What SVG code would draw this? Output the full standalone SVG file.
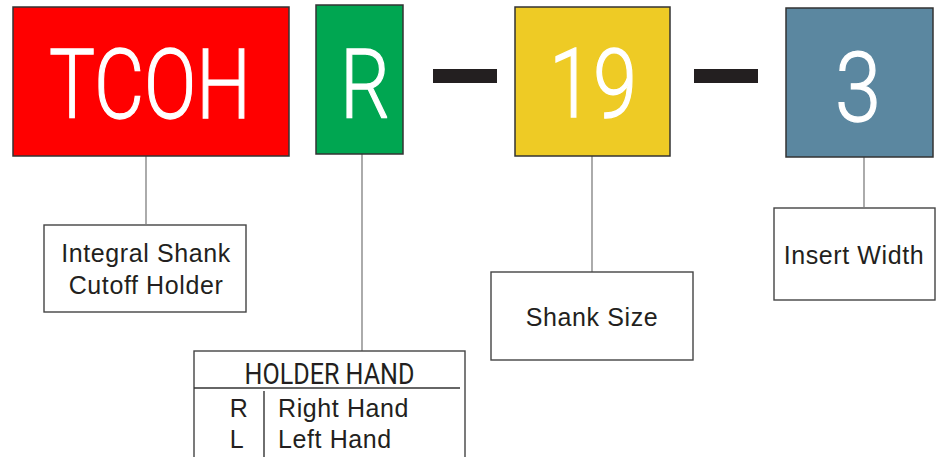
<svg xmlns="http://www.w3.org/2000/svg" width="946" height="457" viewBox="0 0 946 457">
<style>
.code{stroke:#333;stroke-width:1.5}
.big{fill:#fff;stroke:#fff;stroke-width:1.3;font-family:Roboto,"Liberation Sans",sans-serif;font-weight:300;font-size:96px;text-anchor:middle}
.lbox{fill:#fff;stroke:#444;stroke-width:1.4}
.lbl{fill:#231f20;font-family:"Liberation Sans",Arial,sans-serif;font-size:25px;letter-spacing:0.6px;text-anchor:middle}
.conn{stroke:#888;stroke-width:1.4;fill:none}
.dash{fill:#231f20}
</style>
<rect width="946" height="457" fill="#fff"/>
<g id="connectors">
<line class="conn" x1="146" y1="156" x2="146" y2="224"/>
<line class="conn" x1="362" y1="154" x2="362" y2="351" stroke="#555"/>
<line class="conn" x1="592" y1="156" x2="592" y2="272"/>
<line class="conn" x1="864" y1="157" x2="864" y2="207"/>
</g>
<g id="node-tcoh">
<rect class="code" x="13" y="7" width="276" height="149" fill="#ff0000"/>
<text class="big" x="150" y="118" textLength="202" lengthAdjust="spacingAndGlyphs">TCOH</text>
</g>
<g id="node-r">
<rect class="code" x="316" y="5" width="87" height="149" fill="#00a651"/>
<text class="big" x="365" y="118" textLength="50" lengthAdjust="spacingAndGlyphs">R</text>
</g>
<g id="dash-1"><rect class="dash" x="433" y="69" width="64" height="14"/></g>
<g id="node-19">
<rect class="code" x="515" y="7" width="155" height="149" fill="#eecb25"/>
<text class="big" x="593" y="117" textLength="88" lengthAdjust="spacingAndGlyphs">19</text>
</g>
<g id="dash-2"><rect class="dash" x="694" y="69" width="64" height="14"/></g>
<g id="node-3">
<rect class="code" x="786" y="8" width="147" height="149" fill="#5b87a0"/>
<text class="big" x="858" y="121" textLength="46" lengthAdjust="spacingAndGlyphs">3</text>
</g>
<g id="label-integral">
<rect class="lbox" x="44" y="225" width="202" height="87"/>
<text class="lbl" x="146" y="262">Integral Shank</text>
<text class="lbl" x="146" y="294">Cutoff Holder</text>
</g>
<g id="label-holder-hand">
<rect class="lbox" x="194" y="351" width="271" height="120"/>
<text x="329.5" y="384" fill="#231f20" font-family="Roboto,'Liberation Sans',sans-serif" font-size="29" text-anchor="middle" textLength="170" lengthAdjust="spacingAndGlyphs">HOLDER HAND</text>
<line x1="194" y1="388" x2="460" y2="388" stroke="#333" stroke-width="1.4"/>
<line x1="264" y1="391" x2="264" y2="457" stroke="#333" stroke-width="1.4"/>
<text class="lbl" x="239" y="417">R</text>
<text class="lbl" x="278" y="417" style="text-anchor:start">Right Hand</text>
<text class="lbl" x="237" y="448">L</text>
<text class="lbl" x="278" y="448" style="text-anchor:start">Left Hand</text>
</g>
<g id="label-shank-size">
<rect class="lbox" x="491" y="272" width="202" height="88"/>
<text class="lbl" x="592" y="326">Shank Size</text>
</g>
<g id="label-insert-width">
<rect class="lbox" x="774" y="208" width="161" height="92"/>
<text class="lbl" x="854" y="264">Insert Width</text>
</g>
</svg>
